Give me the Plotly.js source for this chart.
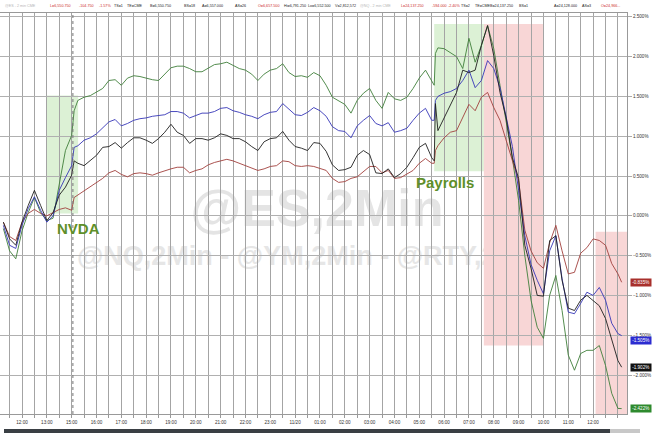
<!DOCTYPE html>
<html><head><meta charset="utf-8">
<script src="https://cdn.plot.ly/plotly-3.0.1.min.js"></script>
<style>html,body{margin:0;padding:0;background:#fff}#chart{width:667px;height:437px}</style>
</head><body><div id="chart"></div>
<script>
// time index in hours from 12:00 (Nov 19, PT); 14:00-15:00 break is skipped
const hours = [-0.75,-0.5,-0.25,0,0.25,0.5,0.75,1,1.25,1.5,1.75,2,2.1,2.25,2.5,2.75,3,3.25,3.5,3.75,4,4.25,4.5,4.75,5,5.25,5.5,5.75,6,6.25,6.5,6.75,7,7.25,7.5,7.75,8,8.25,8.5,8.75,9,9.25,9.5,9.75,10,10.25,10.5,10.75,11,11.25,11.5,11.75,12,12.25,12.5,12.75,13,13.25,13.5,13.75,14,14.25,14.5,14.75,15,15.25,15.5,15.75,16,16.25,16.5,16.6,16.65,16.75,17,17.25,17.5,17.75,18,18.25,18.5,18.75,19,19.25,19.5,19.75,20,20.25,20.5,20.75,21,21.25,21.5,21.75,22,22.25,22.5,22.75,23,23.25,23.5,23.75,24,24.15];

// % change, green (NQ)
const nq = [-0.16,-0.44,-0.54,-0.19,0.04,0.23,0.04,-0.06,-0.03,0.38,0.82,1.01,1.32,
1.45,1.49,1.51,1.55,1.60,1.70,1.71,1.64,
1.73,1.76,1.75,1.73,1.71,1.70,1.78,1.86,
1.88,1.88,1.85,1.81,1.81,1.85,1.90,1.91,
1.93,1.89,1.85,1.83,1.78,1.70,1.78,1.83,
1.85,1.91,1.80,1.75,1.76,1.74,1.80,1.76,
1.64,1.49,1.44,1.40,1.29,1.45,1.54,1.60,
1.45,1.35,1.55,1.47,1.45,1.49,1.60,1.73,
1.83,1.68,1.64,2.04,2.11,2.10,2.05,2.00,1.85,2.23,
1.93,2.14,2.39,2.10,1.64,1.17,0.72,0.19,
-0.50,-1.06,-1.40,-1.54,-1.00,-0.75,-1.19,-1.75,
-1.94,-1.73,-1.69,-1.69,-1.63,-1.88,-2.23,-2.42,
-2.422];

// blue (ES)
const es = [-0.12,-0.37,-0.41,-0.12,0.09,0.24,0.07,-0.08,0.00,0.32,0.48,0.63,0.86,
0.88,0.95,0.98,1.03,1.10,1.18,1.21,1.13,
1.16,1.20,1.22,1.23,1.25,1.26,1.27,1.31,
1.31,1.29,1.23,1.26,1.29,1.29,1.31,1.35,
1.36,1.32,1.30,1.27,1.25,1.22,1.27,1.30,
1.31,1.41,1.34,1.27,1.26,1.30,1.36,1.32,
1.25,1.12,1.07,1.06,0.98,1.13,1.20,1.26,
1.16,1.13,1.17,1.05,1.07,1.10,1.20,1.29,
1.35,1.20,1.20,1.45,1.50,1.54,1.56,1.60,1.70,1.83,
1.61,1.70,1.95,1.85,1.61,1.26,0.87,0.32,
-0.25,-0.61,-0.81,-0.98,-0.44,-0.25,-0.79,-1.21,
-1.23,-1.10,-0.96,-1.00,-0.90,-1.06,-1.35,-1.48,
-1.505];

// black (RTY)
const rty = [-0.08,-0.29,-0.37,-0.08,0.13,0.32,0.13,-0.06,0.04,0.26,0.36,0.51,0.69,
0.66,0.63,0.69,0.76,0.86,0.87,0.92,0.85,
0.92,0.98,0.98,0.95,0.91,0.97,1.05,1.15,
1.05,1.01,0.91,0.97,0.97,0.95,0.98,1.03,
1.01,0.97,0.97,0.93,0.87,0.82,0.93,0.97,
0.98,1.06,0.95,0.87,0.85,0.82,0.92,0.91,
0.81,0.64,0.57,0.58,0.61,0.76,0.82,0.77,
0.54,0.53,0.59,0.48,0.53,0.61,0.73,0.86,
0.91,0.73,0.69,1.41,1.07,1.23,1.39,1.55,1.83,1.80,
1.83,2.14,2.39,2.01,1.55,1.23,0.73,0.47,
-0.37,-0.66,-1.00,-1.01,-0.31,-0.25,-0.81,-1.16,
-1.19,-1.06,-1.00,-1.06,-1.13,-1.29,-1.56,-1.82,
-1.902];

// red (YM)
const ym = [-0.08,-0.26,-0.31,-0.08,0.03,0.08,0.03,0.00,0.04,0.08,0.10,0.07,0.23,
0.26,0.32,0.37,0.42,0.47,0.54,0.57,0.52,
0.49,0.53,0.54,0.53,0.51,0.54,0.57,0.59,
0.61,0.61,0.54,0.57,0.59,0.64,0.67,0.69,
0.71,0.69,0.66,0.62,0.59,0.57,0.59,0.62,
0.63,0.69,0.68,0.63,0.62,0.63,0.62,0.59,
0.57,0.47,0.42,0.43,0.47,0.49,0.56,0.62,
0.62,0.54,0.57,0.47,0.48,0.53,0.57,0.66,
0.72,0.66,0.66,0.82,0.88,0.98,1.05,1.07,1.23,1.40,
1.32,1.49,1.55,1.36,1.20,0.95,0.72,0.44,
-0.18,-0.44,-0.59,-0.66,-0.34,-0.12,-0.44,-0.73,
-0.71,-0.47,-0.40,-0.29,-0.31,-0.37,-0.60,-0.73,
-0.835];

const hourLabels = ["12:00","13:00","15:00","16:00","17:00","18:00","19:00","20:00","21:00","22:00","23:00","11/20","01:00","02:00","03:00","04:00","05:00","06:00","07:00","08:00","09:00","10:00","11:00","12:00"];

// event windows [start hour, end hour, low %, high %]
const nvdaWin = [1.0, 2.26, 0.03, 1.51];
const payrollWin = [16.6, 18.6, 0.56, 2.41];
const selloffWin1 = [18.6, 20.98, -1.63, 2.41];
const selloffWin2 = [23.1, 24.4, -2.6, -0.20];
const sessionBreak = 2.05;

// header quote fields: [text, kind]
const hdrES = [["@ES - 2 min CME","g"],["L=6,550.750","r"],["-104.750","r"],["-1.57%","r"],["TS=1","k"],["TE=CME","k"],["B=6,550.750","k"],["BS=18","k"],["A=6,557.000","k"],["AS=26","k"],["O=6,657.500","r"],["Hi=6,791.250","k"],["Lo=6,552.500","k"],["V=2,812,572","k"]];
const hdrNQ = [["@NQ - 2 min CME","g"],["L=24,137.250","r"],["-594.000","r"],["-2.40%","r"],["TS=2","k"],["TE=CME","k"],["B=24,137.250","k"],["BS=1","k"],["A=24,128.000","k"],["AS=3","k"],["O=24,966...","r"]];

const hdrPx = [3,48,77,97,112,125,148,182,200,233,256,282,306,333, 358,399,430,446,459,473,488,517,552,580,599];
const kindColor = {g:"#b5b5b5", r:"#cc2a2a", k:"#222222"};

const PLOT_W = 627, PLOT_TOP = 13, PLOT_BOT = 414, PLOT_H = PLOT_BOT - PLOT_TOP;
const px2paper = p => p / PLOT_W;
const py2paper = p => (PLOT_BOT - p) / PLOT_H;

const colors = {nq:"#3f7f3a", es:"#3535b8", rty:"#1e1e1e", ym:"#a2403c"};
const badgeBg = {nq:"#2e8a2e", es:"#2c2cd0", rty:"#111111", ym:"#a8302c"};
const badgeShift = {nq:0, es:-5, rty:0, ym:0};

const mk = (y, c) => ({x: hours, y: y, type:"scatter", mode:"lines", line:{color:c, width:0.9}, hoverinfo:"skip", showlegend:false});
const traces = [mk(nq, colors.nq), mk(ym, colors.ym), mk(es, colors.es), mk(rty, colors.rty)];

// x ticks every half hour, label on the hour
const tickvals = [], ticktext = [];
for (let v = -0.5; v <= 24.01; v += 0.5) {
  tickvals.push(v);
  const i = Math.round(v);
  ticktext.push(Number.isInteger(v) && i >= 0 && i < hourLabels.length ? hourLabels[i] : "");
}

const rect = (w, fill) => ({type:"rect", xref:"x", yref:"y", x0:w[0], x1:w[1], y0:w[2], y1:w[3], fillcolor:fill, line:{width:0}, layer:"below"});

const shapes = [
  rect(nvdaWin, "#dcf1d5"),
  rect(payrollWin, "#dcf1d5"),
  rect(selloffWin1, "#f8d6d6"),
  rect(selloffWin2, "#f8d6d6"),
  {type:"line", xref:"x", yref:"paper", x0:sessionBreak, x1:sessionBreak, y0:0, y1:1, line:{color:"#777", width:1, dash:"dot"}, layer:"above"},
  {type:"rect", xref:"paper", yref:"paper", x0:px2paper(150), x1:px2paper(484), y0:py2paper(230), y1:py2paper(176), line:{width:0}, fillcolor:"rgba(0,0,0,0)", layer:"below",
   label:{text:"@ES,2Min", textposition:"middle center", font:{family:"Liberation Sans, Arial, sans-serif", size:52, color:"#e4e4e4", weight:700}}},
  {type:"rect", xref:"paper", yref:"paper", x0:px2paper(40), x1:px2paper(580), y0:py2paper(268), y1:py2paper(238), line:{width:0}, fillcolor:"rgba(0,0,0,0)", layer:"below",
   label:{text:"@NQ,2Min - @YM,2Min - @RTY,2Min", textposition:"middle center", font:{family:"Liberation Sans, Arial, sans-serif", size:27, color:"#e6e6e6", weight:700}}},
  // scrollbar
  {type:"rect", xref:"paper", yref:"paper", x0:px2paper(4), x1:px2paper(610), y0:py2paper(433), y1:py2paper(429), fillcolor:"#3a3f44", line:{width:0}},
  {type:"rect", xref:"paper", yref:"paper", x0:px2paper(610), x1:px2paper(640), y0:py2paper(433), y1:py2paper(429), fillcolor:"#c8c8c8", line:{width:0}}
];

const annotations = [];
const hdr = hdrES.concat(hdrNQ);
hdr.forEach((f, i) => annotations.push({xref:"paper", yref:"paper", x:px2paper(hdrPx[i]), y:py2paper(6), xanchor:"left", yanchor:"middle", showarrow:false,
  text:f[0], font:{family:"Liberation Sans, Arial, sans-serif", size:3.7, color:kindColor[f[1]]}}));

annotations.push({xref:"x", yref:"y", x:2.27, y:-0.16, text:"<b>NVDA</b>", showarrow:false, font:{family:"Liberation Sans, Arial, sans-serif", size:15, color:"#5f8f2a"}});
annotations.push({xref:"x", yref:"y", x:17.05, y:0.42, text:"<b>Payrolls</b>", showarrow:false, font:{family:"Liberation Sans, Arial, sans-serif", size:15, color:"#5f8f2a"}});

[["ym", ym], ["es", es], ["rty", rty], ["nq", nq]].forEach(([k, arr]) => {
  const v = arr[arr.length - 1];
  annotations.push({xref:"paper", yref:"y", x:1, y:v, xanchor:"left", yanchor:"middle", xshift:3, yshift:badgeShift[k], showarrow:false,
    text:v.toFixed(3) + "%", bgcolor:badgeBg[k], borderpad:1.2,
    font:{family:"Liberation Sans, Arial, sans-serif", size:4.6, color:"#ffffff"}});
});

const layout = {
  width:667, height:437,
  margin:{l:0, r:40, t:PLOT_TOP, b:437 - PLOT_BOT},
  paper_bgcolor:"#ffffff", plot_bgcolor:"#ffffff",
  showlegend:false,
  xaxis:{range:[-0.886, 24.365], tickmode:"array", tickvals:tickvals, ticktext:ticktext,
    showgrid:true, gridcolor:"#a4a4a4", gridwidth:1, zeroline:false,
    showline:true, linecolor:"#999", mirror:true, ticks:"outside", ticklen:3, tickcolor:"#999",
    tickfont:{family:"Liberation Sans, Arial, sans-serif", size:4.6, color:"#333"}},
  yaxis:{range:[-2.49, 2.548], side:"right", tick0:0, dtick:0.5, tickformat:".3f", ticksuffix:"%",
    showgrid:true, gridcolor:"#b0b0b0", gridwidth:1, zeroline:false,
    showline:true, linecolor:"#999", mirror:true, ticks:"outside", ticklen:4, tickcolor:"#aaa",
    tickfont:{family:"Liberation Sans, Arial, sans-serif", size:4.6, color:"#333"}},
  shapes:shapes, annotations:annotations
};

Plotly.newPlot("chart", traces, layout, {staticPlot:true, displayModeBar:false});
</script></body></html>
